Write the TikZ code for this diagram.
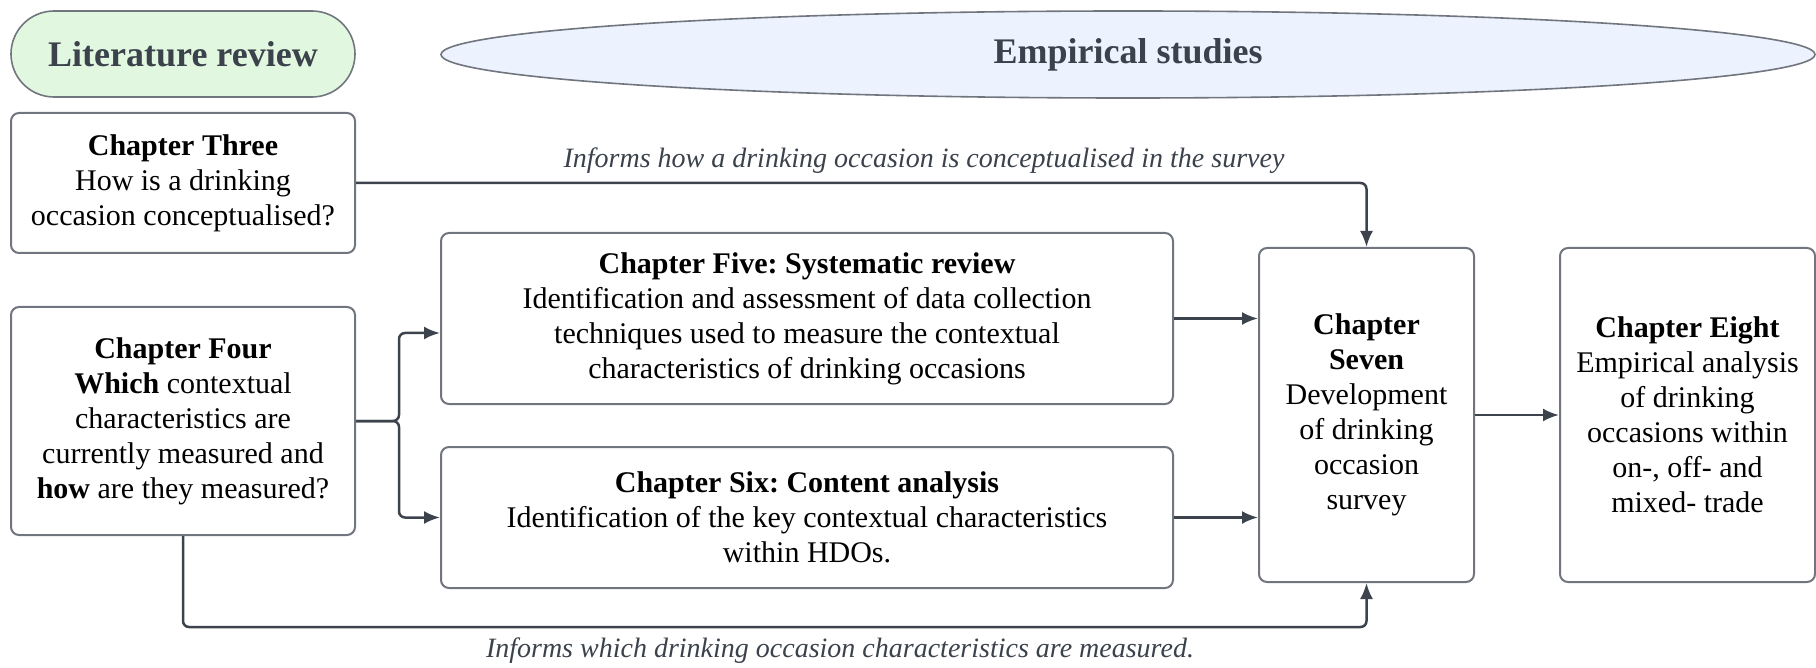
\documentclass[tikz,border=0pt]{standalone}
\usepackage{fontspec}
\setmainfont{Liberation Serif}
\usetikzlibrary{shapes.geometric,arrows.meta}
\definecolor{linegray}{HTML}{3D434D}
\definecolor{boxgray}{HTML}{70757E}
\definecolor{headgray}{HTML}{3B424C}
\definecolor{litgreen}{HTML}{E2F7DF}
\definecolor{empblue}{HTML}{ECF3FE}
\frenchspacing
\begin{document}
\begin{tikzpicture}[x=0.5pt,y=-0.5pt,
    chap/.style={draw=boxgray,line width=1pt,rounded corners=4pt,fill=white,
      align=center,inner sep=0pt,font=\fontsize{15}{17.5}\selectfont},
    head/.style={draw=boxgray,line width=0.8pt,text=headgray,inner sep=0pt,
      font=\fontsize{18}{22}\selectfont\bfseries},
    conn/.style={draw=linegray,line width=1.25pt,rounded corners=3pt,
      -{Latex[length=8pt,width=6.5pt]}},
    note/.style={text=headgray,font=\fontsize{14}{17}\selectfont\itshape}]
  \useasboundingbox (0,0) rectangle (1816,668);
  % headers
  \node[head,fill=litgreen,rounded corners=21.5pt,minimum width=172pt,
    minimum height=43pt] (lit) at (183,54) {Literature review};
  \node[head,fill=empblue,ellipse,minimum width=687pt,
    minimum height=43.5pt] (emp) at (1128,54.5) {Empirical studies};
  % chapters
  \node[chap,minimum width=172pt,minimum height=70pt] (three) at (183,183)
    {\textbf{Chapter Three}\\How is a drinking\\occasion conceptualised?};
  \node[chap,minimum width=172pt,minimum height=114pt] (four) at (183,421)
    {\textbf{Chapter Four}\\\textbf{Which} contextual\\characteristics are\\
     currently measured and\\\textbf{how} are they measured?};
  \node[chap,minimum width=366pt,minimum height=85.5pt] (five) at (807,318.5)
    {\textbf{Chapter Five: Systematic review}\\
     Identification and assessment of data collection\\
     techniques used to measure the contextual\\
     characteristics of drinking occasions};
  \node[chap,minimum width=366pt,minimum height=70.5pt] (six) at (807,517.5)
    {\textbf{Chapter Six: Content analysis}\\
     Identification of the key contextual characteristics\\within HDOs.};
  \node[chap,minimum width=107.5pt,minimum height=167pt] (seven) at (1366.5,415)
    {\textbf{Chapter}\\\textbf{Seven}\\Development\\of drinking\\occasion\\survey};
  \node[chap,minimum width=127.5pt,minimum height=167pt] (eight) at (1687.5,415)
    {\textbf{Chapter Eight}\\Empirical analysis\\of drinking\\occasions within\\
     on-, off- and\\mixed- trade};
  % labels
  \node[note] (howlbl) at (924,161)
    {Informs how a drinking occasion is conceptualised in the survey};
  \node[note] (whichlbl) at (840,651)
    {Informs which drinking occasion characteristics are measured.};
  \coordinate (low) at (0,627);
  % connectors
  \draw[conn] (three.east) -| (seven.north);
  \draw[conn] (four.east) -- ++(43,0) |- ([yshift=-7.25pt]five.west);
  \draw[conn] (four.east) -- ++(43,0) |- (six.west);
  \draw[conn] (five.east) -- (five.east -| seven.west);
  \draw[conn] (six.east) -- (six.east -| seven.west);
  \draw[conn] (seven.east) -- (eight.west);
  \draw[conn] (four.south) -- (four.south |- low) -| (seven.south);
\end{tikzpicture}
\end{document}
